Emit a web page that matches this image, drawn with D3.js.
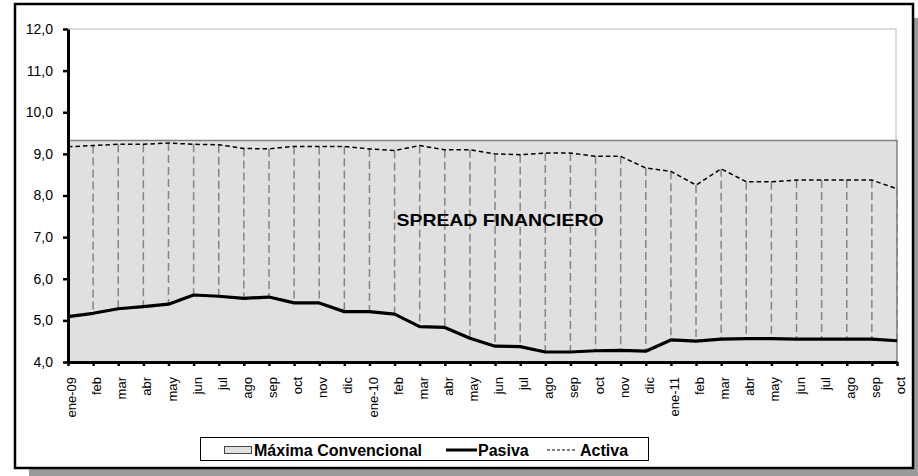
<!DOCTYPE html>
<html>
<head>
<meta charset="utf-8">
<script src="https://cdn.jsdelivr.net/npm/d3@7"></script>
<style>
  body { margin: 0; background: #fff; }
  #chart { width: 918px; height: 476px; }
  text { font-family: "Liberation Sans", Arial, sans-serif; }
</style>
</head>
<body>
<div id="chart"></div>
<script>
const kSvgWidth = 918;
const kSvgHeight = 476;
const kPlot = { left: 68, right: 897, top: 29, bottom: 362 };

// data
const months = [
  "ene-09", "feb", "mar", "abr", "may", "jun", "jul", "ago", "sep", "oct", "nov", "dic",
  "ene-10", "feb", "mar", "abr", "may", "jun", "jul", "ago", "sep", "oct", "nov", "dic",
  "ene-11", "feb", "mar", "abr", "may", "jun", "jul", "ago", "sep", "oct"
];
const pasiva = [
  5.09, 5.17, 5.28, 5.33, 5.39, 5.61, 5.58, 5.53, 5.56, 5.42, 5.42, 5.21,
  5.21, 5.15, 4.85, 4.83, 4.57, 4.38, 4.37, 4.24, 4.24, 4.27, 4.28, 4.26,
  4.53, 4.50, 4.55, 4.56, 4.56, 4.55, 4.55, 4.55, 4.55, 4.51
];
const activa = [
  9.17, 9.20, 9.23, 9.23, 9.26, 9.23, 9.22, 9.13, 9.12, 9.18, 9.18, 9.18,
  9.12, 9.08, 9.20, 9.10, 9.10, 9.00, 8.98, 9.02, 9.02, 8.94, 8.94, 8.66,
  8.58, 8.25, 8.64, 8.33, 8.33, 8.37, 8.37, 8.37, 8.37, 8.16
];
const maxima = [
  9.32, 9.32, 9.32, 9.32, 9.32, 9.32, 9.32, 9.32, 9.32, 9.32, 9.32, 9.32,
  9.32, 9.32, 9.32, 9.32, 9.32, 9.32, 9.32, 9.32, 9.32, 9.32, 9.32, 9.32,
  9.32, 9.32, 9.32, 9.32, 9.32, 9.32, 9.32, 9.32, 9.32, 9.32
];
const yTicks = [4, 5, 6, 7, 8, 9, 10, 11, 12];
const legendItems = ["Máxima Convencional", "Pasiva", "Activa"];

function createSvg()
{
  const svg = d3.select("#chart")
    .append("svg")
    .attr("width", kSvgWidth)
    .attr("height", kSvgHeight)
    .style("display", "block");

  // frame with drop shadow
  svg.append("rect")
    .attr("x", 29).attr("y", 18)
    .attr("width", 899).attr("height", 465)
    .attr("fill", "#9a9a9a");
  svg.append("rect")
    .attr("x", 15).attr("y", 4)
    .attr("width", 898).attr("height", 464)
    .attr("fill", "#fff")
    .attr("stroke", "#000")
    .attr("stroke-width", 2.5);

  return svg;
}

function drawChart(svg)
{
  const idx = months.map((m, i) => i);

  const x = d3.scalePoint()
    .domain(idx)
    .range([kPlot.left, kPlot.right]);

  const y = d3.scaleLinear()
    .domain([4, 12])
    .range([kPlot.bottom, kPlot.top]);

  // plot area border / top gridline
  svg.append("rect")
    .attr("x", kPlot.left).attr("y", kPlot.top)
    .attr("width", kPlot.right - kPlot.left - 1)
    .attr("height", kPlot.bottom - kPlot.top)
    .attr("fill", "none")
    .attr("stroke", "#c4c4c4")
    .attr("stroke-width", 1.2);

  // Máxima Convencional area
  const area = d3.area()
    .x(i => x(i))
    .y0(y(4))
    .y1(i => y(maxima[i]));

  svg.append("path")
    .datum(idx)
    .attr("d", area)
    .attr("fill", "#e0e0e0")
    .attr("stroke", "#808080")
    .attr("stroke-width", 1.5);

  // high-low drop lines between Activa and Pasiva
  svg.append("g")
    .selectAll("line")
    .data(idx.slice(1))
    .join("line")
    .attr("x1", i => x(i)).attr("x2", i => x(i))
    .attr("y1", i => y(activa[i]))
    .attr("y2", i => y(pasiva[i]))
    .attr("stroke", "#858585")
    .attr("stroke-width", 1.5)
    .attr("stroke-dasharray", "8,4");

  const line = d3.line().x(d => d[0]).y(d => d[1]);

  svg.append("path")
    .attr("d", line(idx.map(i => [x(i), y(activa[i])])))
    .attr("fill", "none")
    .attr("stroke", "#000")
    .attr("stroke-width", 1.5)
    .attr("stroke-dasharray", "4.5,3");

  svg.append("path")
    .attr("d", line(idx.map(i => [x(i), y(pasiva[i])])))
    .attr("fill", "none")
    .attr("stroke", "#000")
    .attr("stroke-width", 3.2)
    .attr("stroke-linejoin", "round");

  // axes
  const yAxis = d3.axisLeft(y)
    .tickValues(yTicks)
    .tickFormat(d => d3.format(".1f")(d).replace(".", ","))
    .tickSize(5)
    .tickSizeOuter(0)
    .tickPadding(10);

  const gy = svg.append("g")
    .attr("transform", `translate(${kPlot.left},0)`)
    .call(yAxis);
  gy.select(".domain").attr("stroke-width", 3);
  gy.selectAll(".tick line").attr("stroke-width", 2.5);
  gy.selectAll("text")
    .attr("font-size", 14)
    .attr("fill", "#000");

  const xAxis = d3.axisBottom(x)
    .tickFormat(i => months[i])
    .tickSize(4)
    .tickSizeOuter(0);

  const gx = svg.append("g")
    .attr("transform", `translate(0,${kPlot.bottom})`)
    .call(xAxis);
  gx.select(".domain").attr("stroke-width", 3);
  gx.selectAll(".tick line").attr("stroke-width", 2.5);
  gx.selectAll("text")
    .attr("font-size", 13)
    .attr("fill", "#000")
    .attr("text-anchor", "end")
    .attr("transform", "rotate(-90)")
    .attr("x", -15)
    .attr("y", 3)
    .attr("dy", "0.35em");

  // inner label
  svg.append("text")
    .attr("x", 500)
    .attr("y", 226)
    .attr("text-anchor", "middle")
    .attr("font-size", 17)
    .attr("font-weight", "bold")
    .attr("textLength", 207)
    .attr("lengthAdjust", "spacingAndGlyphs")
    .text("SPREAD FINANCIERO");

  // legend
  const lg = svg.append("g");
  lg.append("rect")
    .attr("x", 200.5).attr("y", 437.5)
    .attr("width", 448).attr("height", 23)
    .attr("fill", "#fff")
    .attr("stroke", "#000")
    .attr("stroke-width", 1);

  lg.append("rect")
    .attr("x", 224.5).attr("y", 446.5)
    .attr("width", 27).attr("height", 7)
    .attr("fill", "#e0e0e0")
    .attr("stroke", "#444")
    .attr("stroke-width", 1);

  lg.append("line")
    .attr("x1", 446).attr("x2", 477)
    .attr("y1", 450).attr("y2", 450)
    .attr("stroke", "#000")
    .attr("stroke-width", 3);

  lg.append("line")
    .attr("x1", 547).attr("x2", 576)
    .attr("y1", 450).attr("y2", 450)
    .attr("stroke", "#000")
    .attr("stroke-width", 1)
    .attr("stroke-dasharray", "3,2");

  const textX = [254, 478, 580];
  lg.selectAll("text")
    .data(legendItems)
    .join("text")
    .attr("x", (d, i) => textX[i])
    .attr("y", 455.5)
    .attr("font-size", 16)
    .attr("font-weight", "bold")
    .text(d => d);
}

document.addEventListener("DOMContentLoaded", () => {
  const svg = createSvg();
  drawChart(svg);
});
</script>
</body>
</html>
